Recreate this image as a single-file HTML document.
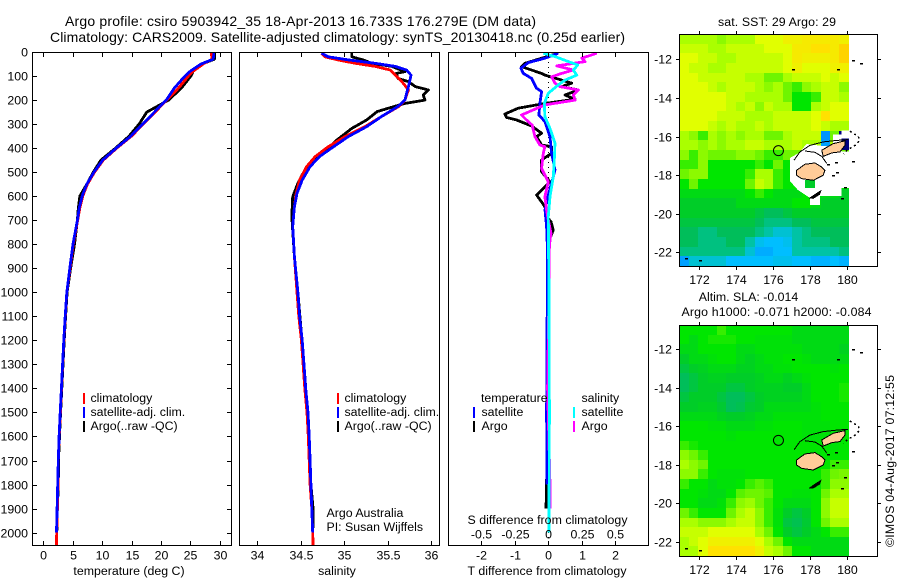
<!DOCTYPE html>
<html lang="en">
<head>
<meta charset="utf-8">
<title>Argo profile 5903942_35</title>
<style>
html,body{margin:0;padding:0;background:#fff;}
svg{display:block;}
text{font-family:"Liberation Sans",Arial,sans-serif;font-size:12.35px;fill:#000;}
.title{font-size:14px;}
</style>
</head>
<body>
<svg id="figure" xmlns="http://www.w3.org/2000/svg" width="900" height="580" viewBox="0 0 900 580">
  <rect x="0" y="0" width="900" height="580" fill="#fff"/>
  <text class="title" x="65" y="26" textLength="471" lengthAdjust="spacing">Argo profile: csiro 5903942_35 18-Apr-2013 16.733S 176.279E (DM data)</text>
  <text class="title" x="50" y="42" textLength="575" lengthAdjust="spacing">Climatology: CARS2009. Satellite-adjusted climatology: synTS_20130418.nc (0.25d earlier)</text>
  <g id="charts"></g>
  <g id="maps"></g>

  <text x="129" y="575" text-anchor="middle">temperature (deg C)</text>
  <text x="337" y="575" text-anchor="middle">salinity</text>
  <text x="547" y="575" text-anchor="middle" textLength="159" lengthAdjust="spacing">T difference from climatology</text>
  <text x="547.5" y="524" text-anchor="middle" textLength="160" lengthAdjust="spacing">S difference from climatology</text>

  <g>
    <rect x="83" y="393" width="2" height="11" fill="#f00"/>
    <text x="90.5" y="402">climatology</text>
    <rect x="83" y="407" width="2" height="11" fill="#00f"/>
    <text x="90.5" y="416">satellite-adj. clim.</text>
    <rect x="83" y="421" width="2" height="11" fill="#000"/>
    <text x="90.5" y="430">Argo(..raw -QC)</text>
  </g>
  <g>
    <rect x="337" y="393" width="2" height="11" fill="#f00"/>
    <text x="344.5" y="402">climatology</text>
    <rect x="337" y="407" width="2" height="11" fill="#00f"/>
    <text x="344.5" y="416">satellite-adj. clim.</text>
    <rect x="337" y="421" width="2" height="11" fill="#000"/>
    <text x="344.5" y="430">Argo(..raw -QC)</text>
  </g>
  <text x="326.5" y="517">Argo Australia</text>
  <text x="326.5" y="531">PI: Susan Wijffels</text>

  <g>
    <text x="481" y="402">temperature</text>
    <rect x="473" y="407" width="2" height="11" fill="#00f"/>
    <text x="481.5" y="416">satellite</text>
    <rect x="473" y="421" width="2" height="11" fill="#000"/>
    <text x="481.5" y="430">Argo</text>
    <text x="581.5" y="402">salinity</text>
    <rect x="573" y="407" width="2" height="11" fill="#0ff"/>
    <text x="581.5" y="416">satellite</text>
    <rect x="573" y="421" width="2" height="11" fill="#f0f"/>
    <text x="581.5" y="430">Argo</text>
  </g>

  <text x="777" y="26" text-anchor="middle" textLength="118" lengthAdjust="spacing">sat. SST: 29 Argo: 29</text>
  <text x="748.5" y="301" text-anchor="middle">Altim. SLA: -0.014</text>
  <text x="776.5" y="316" text-anchor="middle" textLength="190" lengthAdjust="spacing">Argo h1000: -0.071 h2000: -0.084</text>
  <text transform="translate(894,547) rotate(-90)" textLength="172" lengthAdjust="spacing">©IMOS 04-Aug-2017 07:12:55</text>
</svg>
<script>
// ---- axis tick data ----
const depthTicks = [0,100,200,300,400,500,600,700,800,900,1000,1100,1200,1300,1400,1500,1600,1700,1800,1900,2000];
const tempTicks = [0,5,10,15,20,25,30];
const salTicks = [34,34.5,35,35.5,36];
const salTickLabels = ['34','34.5','35','35.5','36'];
const tDiffTicks = [-2,-1,0,1,2];
const sDiffTicks = [-0.5,-0.25,0,0.25,0.5];
const sDiffTickLabels = ['-0.5','-0.25','0','0.25','0.5'];
const lonTicks = [172,174,176,178,180];
const latTicks = [-12,-14,-16,-18,-20,-22];

// ---- temperature panel ----
const tempDepths = [0,10,30,50,80,100,150,200,250,300,350,400,450,500,550,600,650,700,800,900,1000,1100,1200,1300,1400,1500,1600,1700,1800,1900,2000,2052];
const tempClim = [28.6,28.6,28.7,27.2,25.5,24.7,23,21,19,17,15,12.5,10.2,8.7,7.5,6.7,6.2,5.85,5.1,4.55,4.0,3.75,3.5,3.3,3.1,2.9,2.7,2.55,2.5,2.4,2.28,2.25];
const tempSat = [29,29,28.9,26.8,25,24.1,22.3,20.9,18.9,16.9,14.9,12.4,10.1,8.6,7.4,6.6,6.1,5.8,5.05,4.5,4.0,3.72,3.48,3.28,3.08,2.88,2.68,2.55,2.45,2.35,2.25];
const tempArgo = [29.1,29.1,29.1,27,25.5,25.1,23.5,21.3,17.6,16.3,14.6,12.3,9.8,8.5,7.4,6.2,5.95,5.8,5.3,4.65,4.05,3.8,3.55,3.35,3.15,2.95,2.75,2.58,2.55,2.4,2.3];

// ---- salinity panel ----
const salClimDepths = [5,20,33,47,60,75,96,130,158,200,227,269,311,352,394,435,477,533,588,644,727,782,851,1000,1100,1200,1300,1400,1500,1600,1700,1800,1900,2000,2052];
const salClim = [34.74,34.78,34.93,35.13,35.36,35.53,35.59,35.68,35.74,35.70,35.63,35.43,35.24,35.01,34.82,34.67,34.57,34.49,34.45,34.43,34.41,34.42,34.43,34.46,34.48,34.51,34.53,34.55,34.575,34.59,34.6,34.61,34.63,34.64,34.645];
const salSatDepths = [5,20,33,47,60,75,96,130,158,200,227,269,311,352,394,435,477,533,588,644,727,782,851,1000,1100,1200,1300,1400,1500,1600,1700,1800,1900,2000];
const salSat = [34.74,34.82,35.05,35.36,35.59,35.72,35.77,35.75,35.73,35.70,35.62,35.43,35.26,35.05,34.88,34.72,34.61,34.52,34.46,34.43,34.41,34.42,34.43,34.47,34.49,34.52,34.54,34.56,34.586,34.6,34.61,34.62,34.63,34.64];
const salArgoDepths = [0,20,33,47,60,82,89,110,123,144,158,179,200,214,234,248,283,318,366,408,442,491,546,602,685,851,1000,1300,1500,1800,1900,1980];
const salArgo = [35.09,35.09,35.22,35.32,35.55,35.70,35.6,35.62,35.74,35.82,35.97,35.91,35.93,35.70,35.51,35.38,35.26,35.09,34.92,34.80,34.67,34.55,34.47,34.41,34.40,34.43,34.47,34.54,34.58,34.62,34.645,34.645];

// ---- difference panel ----
const tDiffArgoDepths = [5,47,61,89,96,117,130,144,158,179,197,214,234,258,272,283,308,338,352,387,394,422,449,498,540,595,644,685,706,741,775,838,1000,1400,1800,1900];
const tDiffArgo = [0.30,-0.7,-0.8,-0.2,-0.1,0.4,0.7,0.4,0.9,0.5,0.8,-0.1,-0.9,-1.3,-1.25,-0.95,-0.5,-0.2,-0.35,-0.2,0.1,0.1,-0.2,-0.2,0.05,-0.35,-0.1,-0.05,0.08,0.15,0.05,0.02,0,-0.02,-0.05,-0.07];
const tDiffSatDepths = [5,26,44,68,89,110,151,165,214,262,290,352,422,491,519,595,657,727,838,1000,1500,1800];
const tDiffSat = [0.3,-0.1,-0.6,-0.82,-0.75,-0.5,-0.35,-0.2,-0.25,-0.28,-0.1,0.05,0.1,0.2,0.15,0,-0.1,-0.05,-0.02,-0.03,-0.05,-0.04];
const sDiffArgoDepths = [5,26,40,58,75,89,103,130,144,158,179,200,220,262,283,304,352,387,394,422,484,540,602,657,699,755,782,838,1000,1400,1850,1900];
const sDiffArgo = [0.3625,0.25,0.275,0.0625,0.1875,0.1,0.025,0.05,0.0875,0.225,0.1875,0.2,-0.025,-0.2,-0.1625,-0.12,-0.1,-0.0625,-0.025,-0.0375,-0.05,0,-0.025,-0.0125,0,0.02,0.0125,0.005,0.005,-0.005,0.015,0.015];
const sDiffSatDepths = [5,19,40,54,75,96,117,137,172,214,269,318,380,449,519,602,685,838,1000,1500,2000];
const sDiffSat = [-0.0375,0.05,0.15,0.22,0.1875,0.2125,0.125,0.075,0,-0.03,-0.025,0.0125,0.05,0.045,0.0375,0.0125,0,0.002,0.005,0.008,0.005];

// ---- map grids (colour-scale level per 0.5 degree cell, north to south) ----
const sstGrid = [
[7,7,7,7,6.5,7,7,7,8,8,8,8.5,8.5,8.7,8.7,8.7,8.7,8.5],
[7.5,7.5,7.5,7,7,7.5,7.5,7.5,7.5,8,8,8,8.7,8.7,9,9,8.7,9.3],
[8,8,7.5,7.5,7,7,7.5,7.5,7.5,7.5,7.5,8,8.7,8.5,8.5,8.5,8.7,9.3],
[8,7.5,7.5,7,7,7.5,7.5,7.5,7.5,7.5,7.5,8,8.5,8,8,8,8.5,8.5],
[8,8,7.5,7.5,7.5,7.5,7.5,7,7,6,6,7,7.5,7.5,7.5,8,7.5,8],
[8,8,8,7.5,7,7.5,7.5,7.5,7,6.5,7,6,5.5,6.5,7,7.5,7.5,6.5],
[8,8,8,8,8,7.5,7.5,7,7,7,7,6,5,5,5.5,7.5,7.5,7],
[8,8,8,8,8,7.5,7,7.5,6.5,7.5,7,7,5,5,7,7.5,8,8],
[8,8,8,8,7.5,7.5,7.5,7,7,7,7.5,7.5,7.5,7.5,8,9,8,8],
[8,8,8,7.5,7,7.5,7,7,7.5,7,7.5,7.5,7.5,7.5,8,7.5,7,7],
[7,6.5,5.5,7,6.5,7,6.5,7,7,6,6,7,7.5,7.5,7.5,0.3,6,-2],
[7,7,6.5,7,6.5,7,7,7.5,7.5,7,7,7,7.5,7,7,0.5,7,-2],
[6.5,5.5,6.5,6,6,6,6.5,6.5,6,5.5,5.5,6,6,6,6,6,6,6],
[5.5,5.5,6.5,5,5,5,5,5,5.5,5,6,5,5,5,5,5,5,5],
[6,6.5,6.5,5,5,5,5,5.5,7,7,5.5,5,5,5,5,5,5,5],
[5,6,5,5,5,5,5,6,7.5,7,5.5,5,5,4,4,5,5,5],
[4.5,4.5,4.5,4.5,4.5,4.5,4.5,5,5.5,5,4.5,4.5,4.5,5,4.5,4.5,4.5,4],
[4,4,4,4,4,4,4.5,4.5,4.5,4.5,4.5,4.5,5,5,4.5,4,4,4],
[4,4,4,4,4,4,4,4,3.5,3,3,3.5,4,4,4,4,4,4],
[3.5,3.5,3.5,3.5,3.5,3.5,3.5,3.5,3,2.5,2.5,2.5,3,3,3.5,3.5,3.5,3.5],
[3,3,2.5,2.5,3,3,3,3,2.5,2,1.5,1.5,2,2.5,3,3,3,3],
[3,3,2.5,2.5,2.5,3,3,2,1.2,1,1,1.2,2,2.5,2.5,2.5,3,3],
[2.5,2.5,2.5,2.5,2.5,2.5,2.5,1.5,0.7,0.7,1,1,2,2,2,2,2,2.5],
[0.5,1.5,1.5,1.5,1.5,1,1,1,1,1,1.2,1.2,1,1,0.8,0.8,1,0.8]
];
const slaGrid = [
[5,5,5,5,5.5,5,5,5,5,5,5,5,4.5,4.5,4.5,4.5,4.5,4.5],
[5,4.5,5,5.2,5.2,5.2,5,5,4.8,4.8,4.8,4.8,4.5,4.5,4.5,4.5,4.5,4.5],
[4.5,4.5,5,5,5,5,4.5,4.5,4.8,4.8,4.8,4.8,4.8,4.5,4.5,4.5,4.5,4.2],
[4,4.5,4.5,4.8,5,5,4.5,4.2,4.5,4.8,4.8,5,5,4.8,4.5,4.5,4.5,4.5],
[3.5,4,4.2,4.5,4.5,4.5,4.2,4.2,4.5,4.5,4.8,4.8,5,5,5,5,4.8,5],
[3,3.5,4,4.2,4.2,4,4,4,4.2,4.5,4.5,4.2,4.5,4.8,5,5,5,5],
[3,3.5,4,4,4,3.5,3.5,4,4.2,4.2,4.2,4,4,4.5,5,5,5,5.2],
[3.5,4,4,4,3.5,3,3,3.5,4,4.2,4.2,4.2,4.2,4.5,5,5,5,5.2],
[4,4,4.2,4.2,3.8,3,3.2,3.8,4,4.5,4.5,4.5,4.5,4.5,4.8,5,5,5],
[4.5,4.5,4.5,4.5,4.2,4,4,4.2,4.5,4.5,4.8,4.8,4.8,4.8,4.8,5,5,5],
[5,5,5,4.8,4.8,4.5,4.5,4.5,4.8,4.8,5,5,5,4.8,4.8,4.8,5,5],
[5,5,5,5,5,4.8,5,5,5,5,5,5,5,4.8,4.8,4.8,4.8,5],
[5.5,5.2,5,5,5,5,5,5,5,5,5,5,5,5,5,5,4.8,5],
[6.5,6,5.5,5,5,5,5,5,5,5,5,5,5,5,4.8,5,5,5],
[7,6.5,6,5,5,5,5,5,5,5,5,5,5,5,5,5,5.5,5.5],
[6.5,6.5,5.5,5,4.8,4.8,4.8,5,5,5,5,5,5,5,5,5.5,6,6.2],
[5.5,5,5,4.5,4.8,4.8,5,5.5,5.8,5.5,5,5,5,5,5,5.5,6.5,6.5],
[5,5,4.8,4.5,4.5,5,5.8,6,6,5.8,5,5,4.8,4.8,5,6,7,7],
[5,5,4.5,4.5,4.8,5.5,6.5,6.8,6,5.5,5,4.5,4.5,4.5,5,6.5,7.5,7.5],
[6,5.5,5,5,5,6,7,7.5,6.5,5.5,4.8,4,3.5,4,5,6.5,7.5,7.5],
[7,7,6.5,6.5,6.5,7,7.5,7.5,6.5,5.5,4.8,3.5,3.2,3.8,5,6,7,7],
[7.5,7.5,7.5,8,8,8,8,8,7,6,5,4,3.5,4,4.5,5,5.5,5.5],
[7,7.5,8,8.5,8.5,8.5,8.5,8.5,8,7,6,5,4.5,4.5,4.5,4.5,4.5,4.5],
[7,7,8,9,9,9,9,9,8.5,7.5,7,6,5,5,4.5,4.5,4.5,4.5]
];

// ---- geography (lon, lat) ----
const argoLon = 176.279;
const argoLat = -16.733;
const vitiLevu = [[177.26,-17.75],[177.71,-17.44],[178.25,-17.37],[178.61,-17.58],[178.79,-17.75],[178.7,-18.01],[178.16,-18.27],[177.53,-18.18],[177.26,-18.01]];
const vanuaLevu = [[179.87,-16.23],[179.24,-16.37],[178.62,-16.71],[178.7,-17.03],[179.16,-16.85],[179.6,-16.8],[179.87,-16.46]];
const kadavu = [[177.98,-19.19],[178.3,-18.98],[178.56,-18.82],[178.5,-19.0],[178.15,-19.2]];
const reefNorth = [[177.12,-17.23],[177.44,-16.8],[177.98,-16.46],[178.7,-16.28],[179.43,-16.2],[180.05,-16.16]];
const reefSouth = [[177.71,-16.75],[178.25,-16.82],[178.62,-17.03],[178.89,-17.4]];
const lauChain = [[180.14,-15.73],[180.6,-16],[180.66,-16.2],[180.5,-16.4],[180.3,-16.55],[180.05,-16.65],[179.8,-16.9]];
const smallIslands = [[177.05,-12.52],[179.48,-12.52],[180.33,-12.02],[180.72,-12.17],[180.32,-17.27],[179.39,-17.32],[178.95,-17.45],[179.23,-18.01],[179.43,-17.84],[179.88,-18.62],[179.73,-19.19],[171.3,-22.3],[172.04,-22.4]];
const sstMask = [[177.8,-16.39],[178.7,-16.49],[179.24,-16.49],[179.24,-15.9],[179.7,-15.9],[179.7,-15.68],[180.11,-15.68],[180.11,-16.1],[179.7,-16.1],[179.7,-16.79],[180.11,-16.79],[180.11,-18.68],[179.7,-18.68],[179.7,-19.08],[178.52,-19.08],[178.52,-19.55],[177.98,-19.55],[177.98,-19.18],[177.33,-18.77],[176.9,-18.31],[176.9,-17.11],[177.39,-16.85]];
const sstMaskHole = [[177.71,-18.25],[178.25,-18.25],[178.25,-18.66],[177.71,-18.66]];

// ---- helpers ----
const NS = 'http://www.w3.org/2000/svg';
function mk(tag, attrs, parent) {
  const el = document.createElementNS(NS, tag);
  for (const k in attrs) el.setAttribute(k, attrs[k]);
  parent.appendChild(el);
  return el;
}
const depthY = d => 52 + d * 0.2403;
const tempX = t => 43.3 + t * 5.88;
const salX = s => 257 + (s - 34) * 87;
const tDiffX = t => 548.3 + t * 33.4;
const sDiffX = s => 548.3 + s * 134;
const mapX = lon => 699.3 + (lon - 172) * 18.5;
const sstY = lat => 59.3 + (-12 - lat) * 19.3;
const slaY = lat => 349 + (-12 - lat) * 19.3;

const colourStops = [[-2,[0,0,128]],[0,[0,130,255]],[1,[0,190,255]],[2,[0,195,165]],[3,[0,190,90]],[4,[0,205,40]],[5,[0,230,0]],[6,[110,245,0]],[7,[170,255,0]],[8,[225,255,0]],[9,[255,225,0]],[10,[255,180,0]]];
function levelColour(v) {
  for (let i = 1; i < colourStops.length; i++) {
    if (v <= colourStops[i][0]) {
      const a = colourStops[i-1], b = colourStops[i];
      const f = (v - a[0]) / (b[0] - a[0]);
      const c = a[1].map((q, j) => Math.round(q + (b[1][j] - q) * f));
      return 'rgb(' + c.join(',') + ')';
    }
  }
  return 'rgb(255,180,0)';
}
function profilePoints(values, depths, xf) {
  const n = Math.min(values.length, depths.length);
  const pts = [];
  for (let i = 0; i < n; i++) pts.push(xf(values[i]).toFixed(1) + ',' + depthY(depths[i]).toFixed(1));
  return pts.join(' ');
}
const charts = document.getElementById('charts');
const maps = document.getElementById('maps');

function drawSeries(name, values, depths, xf, colour, parent) {
  const line = mk('polyline', {points: profilePoints(values, depths, xf), fill: 'none', stroke: colour, 'stroke-width': 2.8, 'stroke-linejoin': 'round', 'shape-rendering': 'crispEdges'}, parent);
  
  
}
function drawTick(name, x1, y1, x2, y2, parent) {
  const t = mk('line', {x1: x1, y1: y1, x2: x2, y2: y2, stroke: '#000', 'stroke-width': 1, 'shape-rendering': 'crispEdges'}, parent);
  
  
}
function drawLabel(name, x, y, anchor, str, parent) {
  const t = mk('text', {x: x, y: y, 'text-anchor': anchor}, parent);
  t.textContent = str;
  
  
}
function drawBox(name, x, y, w, h, parent) {
  const r = mk('rect', {x: x, y: y, width: w, height: h, fill: 'none', stroke: '#000', 'stroke-width': 1, 'shape-rendering': 'crispEdges'}, parent);
  
  
}

// ---- panel 1: temperature ----
const p1 = mk('g', {}, charts);


drawSeries('temperature-argo-line', tempArgo, tempDepths, tempX, '#000', p1);
drawSeries('temperature-climatology-line', tempClim, tempDepths, tempX, '#f00', p1);
drawSeries('temperature-satellite-line', tempSat, tempDepths, tempX, '#00f', p1);
drawBox('temperature-panel-frame', 32.5, 52.5, 199, 493, p1);
depthTicks.forEach(d => {
  const y = Math.round(depthY(d)) + 0.5;
  drawTick('depth-tick-left', 32.5, y, 37, y, p1);
  drawTick('depth-tick-right', 231.5, y, 227, y, p1);
  drawLabel('depth-tick-label', 28, y + 4, 'end', String(d), p1);
});
tempTicks.forEach(t => {
  const x = Math.round(tempX(t)) + 0.5;
  drawTick('temperature-tick-top', x, 52.5, x, 57, p1);
  drawTick('temperature-tick-bottom', x, 545.5, x, 541, p1);
  drawLabel('temperature-tick-label', x, 559.5, 'middle', String(t), p1);
});

// ---- panel 2: salinity ----
const p2 = mk('g', {}, charts);


drawSeries('salinity-argo-line', salArgo, salArgoDepths, salX, '#000', p2);
drawSeries('salinity-climatology-line', salClim, salClimDepths, salX, '#f00', p2);
drawSeries('salinity-satellite-line', salSat, salSatDepths, salX, '#00f', p2);
drawBox('salinity-panel-frame', 239.5, 52.5, 200, 493, p2);
salTicks.forEach((s, i) => {
  const x = Math.round(salX(s)) + 0.5;
  drawTick('salinity-tick-top', x, 52.5, x, 57, p2);
  drawTick('salinity-tick-bottom', x, 545.5, x, 541, p2);
  drawLabel('salinity-tick-label', x, 559.5, 'middle', salTickLabels[i], p2);
});

// ---- panel 3: differences ----
const p3 = mk('g', {}, charts);


const zeroLine = mk('line', {x1: 548.5, y1: 52, x2: 548.5, y2: 545, stroke: '#000', 'stroke-width': 1, 'stroke-dasharray': '1 4', 'shape-rendering': 'crispEdges'}, p3);


drawSeries('t-difference-argo-line', tDiffArgo, tDiffArgoDepths, tDiffX, '#000', p3);
drawSeries('t-difference-satellite-line', tDiffSat, tDiffSatDepths, tDiffX, '#00f', p3);
drawSeries('s-difference-argo-line', sDiffArgo, sDiffArgoDepths, sDiffX, '#f0f', p3);
drawSeries('s-difference-satellite-line', sDiffSat, sDiffSatDepths, sDiffX, '#0ff', p3);
drawBox('difference-panel-frame', 448.5, 52.5, 200, 493, p3);
tDiffTicks.forEach(t => {
  const x = Math.round(tDiffX(t)) + 0.5;
  drawTick('t-difference-tick-bottom', x, 545.5, x, 541, p3);
  drawLabel('t-difference-tick-label', x, 559.5, 'middle', String(t), p3);
});
sDiffTicks.forEach((s, i) => {
  const x = Math.round(sDiffX(s)) + 0.5;
  drawTick('s-difference-tick-top', x, 52.5, x, 57, p3);
  drawLabel('s-difference-tick-label', x, 538.5, 'middle', sDiffTickLabels[i], p3);
});

// ---- maps ----
function drawPoly(name, coords, yf, fill, stroke, parent) {
  const pts = coords.map(c => mapX(c[0]).toFixed(1) + ',' + yf(c[1]).toFixed(1)).join(' ');
  const p = mk('polygon', {points: pts, fill: fill, stroke: stroke, 'stroke-width': 1, 'shape-rendering': 'crispEdges'}, parent);
  
  
}
function drawPolyline(name, coords, yf, parent) {
  const pts = coords.map(c => mapX(c[0]).toFixed(1) + ',' + yf(c[1]).toFixed(1)).join(' ');
  const p = mk('polyline', {points: pts, fill: 'none', stroke: '#000', 'stroke-width': 1, 'shape-rendering': 'crispEdges'}, parent);
  
  
}
function drawMap(prefix, grid, yf, topPx, botPx, withMask, parent) {
  const lonStart = 170.92;
  const lonStep = 9.16 / 18;
  const latStart = -12 + (yf(-12) - topPx) / 19.3;
  const latStep = (botPx - topPx) / 19.3 / grid.length;
  grid.forEach((row, r) => {
    row.forEach((v, c) => {
      const x0 = Math.round(mapX(lonStart + c * lonStep));
      const x1 = Math.round(mapX(lonStart + (c + 1) * lonStep));
      const y0 = Math.round(yf(latStart - r * latStep));
      const y1 = Math.round(yf(latStart - (r + 1) * latStep));
      const cell = mk('rect', {x: x0, y: y0, width: x1 - x0, height: y1 - y0, fill: levelColour(v), 'shape-rendering': 'crispEdges'}, parent);
      
      
    });
  });
  if (withMask) {
    const toPath = arr => 'M' + arr.map(c => mapX(c[0]).toFixed(1) + ' ' + yf(c[1]).toFixed(1)).join('L') + 'Z';
    const mask = mk('path', {d: toPath(sstMask) + toPath(sstMaskHole), fill: '#fff', 'fill-rule': 'evenodd', 'shape-rendering': 'crispEdges'}, parent);
    
    
  }
  drawPolyline(prefix + '-reef-north', reefNorth, yf, parent);
  drawPolyline(prefix + '-reef-south', reefSouth, yf, parent);
  const lau = mk('polyline', {points: lauChain.map(c => mapX(c[0]).toFixed(1) + ',' + yf(c[1]).toFixed(1)).join(' '), fill: 'none', stroke: '#000', 'stroke-width': 1.5, 'stroke-dasharray': '2 3', 'shape-rendering': 'crispEdges'}, parent);
  
  
  drawPoly(prefix + '-viti-levu', vitiLevu, yf, '#ffcc99', '#000', parent);
  drawPoly(prefix + '-vanua-levu', vanuaLevu, yf, '#ffcc99', '#000', parent);
  drawPoly(prefix + '-kadavu', kadavu, yf, '#000', '#000', parent);
  smallIslands.forEach(c => {
    const isl = mk('rect', {x: Math.round(mapX(c[0])) - 1, y: Math.round(yf(c[1])), width: 3, height: 1.5, fill: '#000', 'shape-rendering': 'crispEdges'}, parent);
    
    
  });
  const circle = mk('circle', {cx: mapX(argoLon), cy: yf(argoLat), r: 5, fill: 'none', stroke: '#000', 'stroke-width': 1}, parent);
  
  
  drawBox(prefix + '-map-frame', 679.5, topPx + 0.5, 198, botPx - topPx, parent);
  lonTicks.forEach(l => {
    const x = Math.round(mapX(l)) + 0.5;
    drawTick(prefix + '-longitude-tick-top', x, topPx, x, topPx - 3, parent);
    drawTick(prefix + '-longitude-tick-bottom', x, botPx + 1, x, botPx + 4, parent);
    drawLabel(prefix + '-longitude-label', x, botPx + 18, 'middle', String(l), parent);
  });
  latTicks.forEach(l => {
    const y = Math.round(yf(l)) + 0.5;
    drawTick(prefix + '-latitude-tick-left', 679, y, 676, y, parent);
    drawTick(prefix + '-latitude-tick-right', 878, y, 881, y, parent);
    drawLabel(prefix + '-latitude-label', 672, y + 4, 'end', String(l), parent);
  });
}
const sstMap = mk('g', {}, maps);


drawMap('sst', sstGrid, sstY, 34, 266, true, sstMap);
const slaMap = mk('g', {}, maps);


drawMap('sla', slaGrid, slaY, 325, 556, false, slaMap);
</script>
</body>
</html>
